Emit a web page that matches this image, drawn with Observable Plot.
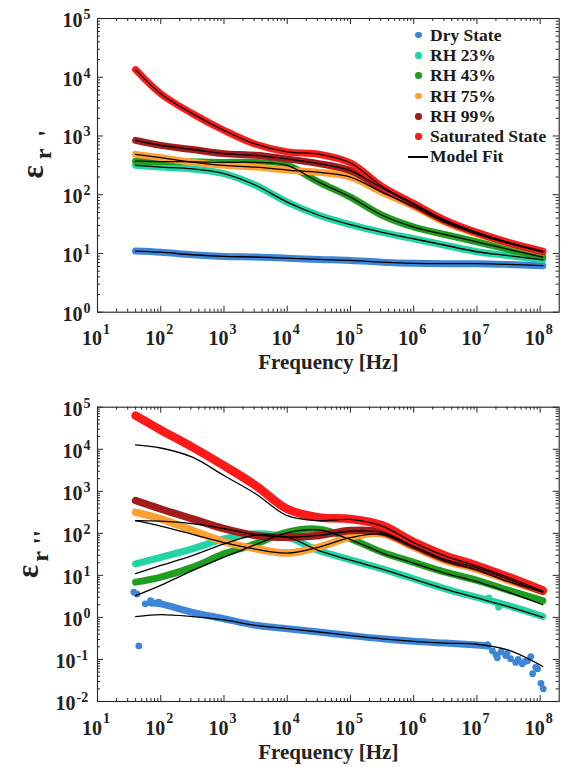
<!DOCTYPE html>
<html><head><meta charset="utf-8">
<script src="https://cdn.jsdelivr.net/npm/d3@7"></script>
<script src="https://cdn.jsdelivr.net/npm/@observablehq/plot@0.6"></script>
<style>
body{margin:0;background:#fff;}
#wrap{position:relative;width:567px;height:767px;font-family:"Liberation Serif","Times New Roman",serif;background:#fff;}
#wrap svg{display:block;}
.legend{position:absolute;left:405px;top:25px;font-weight:bold;font-size:17.5px;color:#1a1a1a;font-family:"Liberation Serif","Times New Roman",serif;}
.row{height:20.3px;display:flex;align-items:center;white-space:nowrap;}
.sw{width:25px;height:20px;position:relative;flex:none;}
.dot{position:absolute;left:10px;top:6.75px;width:6.5px;height:6.5px;border-radius:50%;}
.ln{position:absolute;left:3px;top:9.4px;width:20px;height:1.3px;background:#000;}
</style></head>
<body>
<div id="wrap"></div>
<script>
// ---------- data ----------
const seriesNames = ["Dry State", "RH 23%", "RH 43%", "RH 75%", "RH 99%", "Saturated State"];
const seriesColors = ["#3d85d6", "#22d3a3", "#1f9e1f", "#ffa033", "#a31c1c", "#ff1a1a"];
const fitName = "Model Fit";

// frequencies (Hz) at which values were read
const freq = [40, 100, 316, 1000, 3162, 10000, 31623, 100000, 316228, 1000000, 3162278, 10000000, 31622777, 110000000];

// real permittivity eps'_r
const realDry = [11.0, 10.5, 9.5, 8.9, 8.7, 8.3, 7.9, 7.6, 7.1, 6.8, 6.7, 6.7, 6.5, 6.2];
const realRH23 = [316, 295, 275, 229, 145, 75, 44.7, 30.9, 22.9, 17.8, 13.8, 10.7, 9.2, 7.8];
const realRH43 = [372, 367, 363, 355, 355, 316, 164, 91, 44.7, 28.2, 20.9, 15.8, 11.7, 8.7];
const realRH75 = [486, 427, 359, 316, 295, 263, 240, 200, 110, 63, 33.9, 21.4, 14.8, 10.5];
const realRH99 = [841, 692, 589, 501, 468, 407, 339, 257, 129, 67.6, 35.5, 22.4, 15.1, 10.7];
const realSat = [13490, 5250, 2400, 1245, 724, 537, 490, 347, 138, 71, 37, 22.9, 15.5, 11.0];

// imaginary permittivity eps''_r (measured)
const lossDryFreq = [70, 100, 316, 1000, 3162, 10000, 31623, 100000, 316228, 1000000, 3162278, 10000000, 15000000];
const lossDry = [2.2, 2.1, 1.32, 0.93, 0.65, 0.54, 0.45, 0.37, 0.31, 0.27, 0.245, 0.22, 0.21];
const lossRH23 = [18.8, 26.9, 42.7, 74, 98, 81, 38.9, 23.4, 14.3, 8.3, 4.8, 3.0, 1.9, 1.05];
const lossRH43 = [6.9, 9.1, 15.5, 32.4, 56, 107, 126, 74, 35.5, 20.4, 11.9, 7.6, 4.4, 2.5];
const lossRH75 = [316, 221, 117, 63, 43, 34, 47, 81, 98, 47, 22.4, 14.1, 7.6, 4.2];
const lossRH99 = [603, 380, 221, 129, 89, 81, 89, 117, 107, 51, 24.5, 15.5, 8.3, 4.2];
const lossSat = [63100, 28800, 11200, 4070, 1380, 380, 240, 219, 155, 61.7, 29.5, 17.0, 9.1, 4.4];

// scattered measured points (dry state ends, RH 23% blips)
const dryScatterF = [37.5, 42, 45, 57, 69, 93, 14700000, 17600000, 20000000, 21000000, 24000000, 28500000, 30000000, 34000000, 41000000, 45000000, 52000000, 58000000, 63000000, 71000000, 76000000, 85000000, 91000000, 103000000, 112000000];
const dryScatterV = [4.0, 3.6, 0.21, 2.1, 2.5, 2.3, 0.226, 0.16, 0.13, 0.11, 0.15, 0.124, 0.14, 0.104, 0.085, 0.10, 0.079, 0.09, 0.093, 0.117, 0.046, 0.065, 0.060, 0.027, 0.020];
const rh23ScatterF = [15500000, 22000000];
const rh23ScatterV = [2.9, 1.75];

// model fits eps''_r
const fitLossDry = [1.05, 1.17, 1.05, 0.87, 0.65, 0.54, 0.45, 0.37, 0.31, 0.27, 0.245, 0.23, 0.166, 0.068];
const fitLossRH23 = [11, 17.2, 29.5, 56, 91, 81, 38.9, 22.9, 14.1, 8.1, 4.7, 2.9, 1.8, 1.0];
const fitLossRH43 = [3.3, 5.8, 13, 27, 54, 102, 120, 71, 34, 19.5, 11.2, 7.1, 4.0, 2.0];
const fitLossRH75 = [200, 148, 95, 60, 42, 34, 47, 79, 95, 46, 21.9, 13.5, 7.2, 4.0];
const fitLossRH99 = [200, 195, 170, 129, 93, 81, 89, 112, 105, 50, 24, 15.1, 8.1, 4.0];
const fitLossSat = [12700, 10700, 6460, 2370, 871, 263, 200, 214, 148, 60.3, 28.8, 16.6, 8.9, 4.2];

// axes
const xTicks = [1e1, 1e2, 1e3, 1e4, 1e5, 1e6, 1e7, 1e8];
const xTickExp = ["1", "2", "3", "4", "5", "6", "7", "8"];
const yTicksTop = [1e0, 1e1, 1e2, 1e3, 1e4, 1e5];
const yTickExpTop = ["0", "1", "2", "3", "4", "5"];
const yTicksBot = [1e-2, 1e-1, 1e0, 1e1, 1e2, 1e3, 1e4, 1e5];
const yTickExpBot = ["-2", "-1", "0", "1", "2", "3", "4", "5"];
const xLabel = "Frequency [Hz]";

// ---------- helpers ----------
const FONT = "Liberation Serif";
const INK = "#222";
const zip = (fs, vs) => fs.map((f, i) => ({f, v: vs[i]}));
function minorTicks(majors, lo, hi) {
  const out = [];
  for (const m of majors) for (let k = 2; k <= 9; k++) { const t = m * k; if (t > lo && t < hi) out.push(t); }
  return out;
}

function panel(o) {
  const width = 567, mL = 97, mR = 8.3;
  const W = width - mL - mR, H = o.height - o.mt - o.mb;
  const xDom = [10, 2e8];
  const marks = [];
  o.bands.forEach((b) => marks.push(Plot.line(b.rows, {x: "f", y: "v", stroke: b.color, strokeWidth: b.w, curve: "catmull-rom", strokeLinecap: "round", strokeLinejoin: "round"})));
  (o.scatter || []).forEach((s) => marks.push(Plot.dot(s.rows, {x: "f", y: "v", r: 3.4, fill: s.color, stroke: "none"})));
  o.fits.forEach((rows) => marks.push(Plot.line(rows, {x: "f", y: "v", stroke: "#000", strokeWidth: 1.3, curve: "catmull-rom"})));
  const xMin = minorTicks(xTicks, xDom[0], xDom[1]);
  const yMin = minorTicks(o.yTicks, o.yDomain[0], o.yDomain[1]);
  const tk = {stroke: "#262626", strokeWidth: 1};
  marks.push(Plot.tickX(xTicks, {x: d => d, insetTop: H - 6, ...tk}));
  marks.push(Plot.tickX(xTicks, {x: d => d, insetBottom: H - 6, ...tk}));
  marks.push(Plot.tickX(xMin, {x: d => d, insetTop: H - 3, ...tk}));
  marks.push(Plot.tickX(xMin, {x: d => d, insetBottom: H - 3, ...tk}));
  marks.push(Plot.tickY(o.yTicks, {y: d => d, insetRight: W - 6, ...tk}));
  marks.push(Plot.tickY(o.yTicks, {y: d => d, insetLeft: W - 6, ...tk}));
  marks.push(Plot.tickY(yMin, {y: d => d, insetRight: W - 3, ...tk}));
  marks.push(Plot.tickY(yMin, {y: d => d, insetLeft: W - 3, ...tk}));
  marks.push(Plot.frame({stroke: "#262626", strokeWidth: 1.1}));
  const txt = {fill: INK, fontWeight: "bold", lineAnchor: "middle", fontFamily: FONT};
  marks.push(Plot.text(xTicks, {x: d => d, frameAnchor: "bottom", text: () => "10", textAnchor: "end", dx: 4.5, dy: 26.6, fontSize: 20, ...txt}));
  marks.push(Plot.text(xTicks, {x: d => d, frameAnchor: "bottom", text: (d, i) => xTickExp[i], textAnchor: "start", dx: 5.5, dy: 17.3, fontSize: 14, ...txt}));
  const idx = o.yTicks.map((d, i) => i);
  const pos = idx.filter(i => !o.yExp[i].startsWith("-"));
  const neg = idx.filter(i => o.yExp[i].startsWith("-"));
  marks.push(Plot.text(pos, {y: i => o.yTicks[i], frameAnchor: "left", text: () => "10", textAnchor: "end", dx: -15, dy: 2, fontSize: 20, ...txt}));
  marks.push(Plot.text(pos, {y: i => o.yTicks[i], frameAnchor: "left", text: i => o.yExp[i], textAnchor: "start", dx: -14, dy: -4, fontSize: 14, ...txt}));
  marks.push(Plot.text(neg, {y: i => o.yTicks[i], frameAnchor: "left", text: () => "10", textAnchor: "end", dx: -22, dy: 2, fontSize: 20, ...txt}));
  marks.push(Plot.text(neg, {y: i => o.yTicks[i], frameAnchor: "left", text: i => o.yExp[i], textAnchor: "start", dx: -21, dy: -4, fontSize: 14, ...txt}));
  marks.push(Plot.text([xLabel], {frameAnchor: "bottom", text: d => d, dy: o.xTitleDy, fontSize: 21, textAnchor: "middle", ...txt}));
  o.ylab.forEach((p) => marks.push(Plot.text([p.t], {frameAnchor: "left", text: d => d, dx: p.dx, dy: p.dy, rotate: -90, fontSize: p.fs, textAnchor: "middle", ...txt})));
  return Plot.plot({
    width, height: o.height, marginLeft: mL, marginRight: mR, marginTop: o.mt, marginBottom: o.mb,
    x: {type: "log", domain: xDom, axis: null},
    y: {type: "log", domain: o.yDomain, axis: null},
    style: {fontFamily: FONT, background: "#fff", overflow: "visible"},
    marks
  });
}

const topBands = [realDry, realRH23, realRH43, realRH75, realRH99, realSat].map((v, i) => ({rows: zip(freq, v), color: seriesColors[i], w: 7}));
const topPlot = panel({
  height: 383, mt: 18, mb: 71.3, yDomain: [1, 1e5], yTicks: yTicksTop, yExp: yTickExpTop,
  bands: topBands,
  fits: [realDry, realRH23, realRH43, realRH75, realRH99, realSat].map(v => zip(freq, v)),
  xTitleDy: 50.3,
  ylab: [{t: "ε", dx: -64.5, dy: 6.6, fs: 31}, {t: "r", dx: -54, dy: -11.4, fs: 24}, {t: "'", dx: -50, dy: -32, fs: 26}]
});

const botBands = [
  {rows: zip(lossDryFreq, lossDry), color: seriesColors[0], w: 7},
  {rows: zip(freq, lossRH23), color: seriesColors[1], w: 7},
  {rows: zip(freq, lossRH43), color: seriesColors[2], w: 7},
  {rows: zip(freq, lossRH75), color: seriesColors[3], w: 7.5},
  {rows: zip(freq, lossRH99), color: seriesColors[4], w: 7.5},
  {rows: zip(freq, lossSat), color: seriesColors[5], w: 8.5}
];
const botPlot = panel({
  height: 384, mt: 23.7, mb: 66, yDomain: [0.01, 1e5], yTicks: yTicksBot, yExp: yTickExpBot,
  bands: botBands,
  scatter: [{rows: zip(dryScatterF, dryScatterV), color: seriesColors[0]}, {rows: zip(rh23ScatterF, rh23ScatterV), color: seriesColors[1]}],
  fits: [fitLossDry, fitLossRH23, fitLossRH43, fitLossRH75, fitLossRH99, fitLossSat].map(v => zip(freq, v)),
  xTitleDy: 51,
  ylab: [{t: "ε", dx: -69.5, dy: 17, fs: 31}, {t: "r", dx: -57.5, dy: 2, fs: 24}, {t: "''", dx: -55, dy: -17, fs: 26}]
});

const wrap = document.getElementById("wrap");
wrap.appendChild(topPlot);
wrap.appendChild(botPlot);

const lg = document.createElement("div");
lg.className = "legend";
seriesNames.forEach((n, i) => {
  const r = document.createElement("div"); r.className = "row";
  r.innerHTML = `<span class="sw"><span class="dot" style="background:${seriesColors[i]}"></span></span><span>${n}</span>`;
  lg.appendChild(r);
});
const fr = document.createElement("div"); fr.className = "row";
fr.innerHTML = `<span class="sw"><span class="ln"></span></span><span>${fitName}</span>`;
lg.appendChild(fr);
wrap.appendChild(lg);
</script>
</body></html>
